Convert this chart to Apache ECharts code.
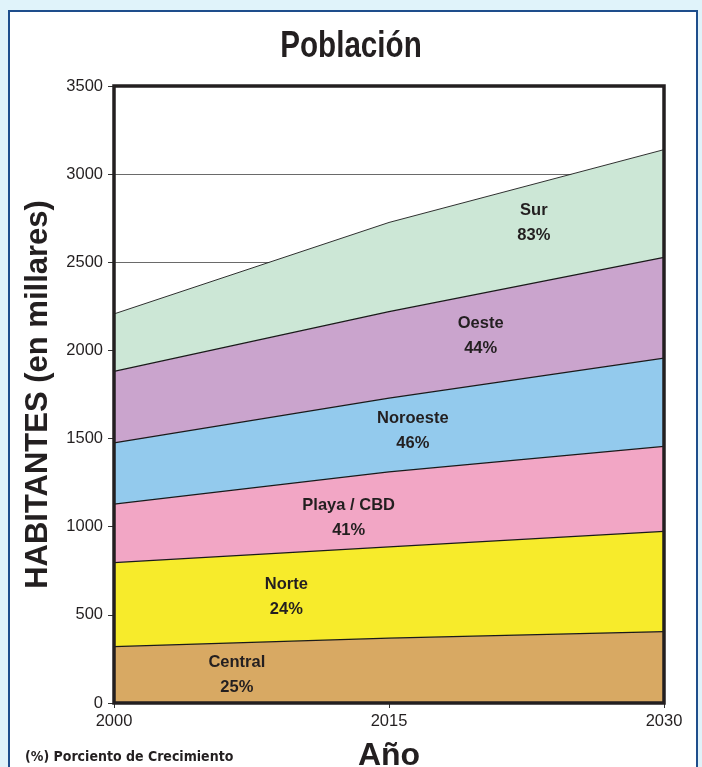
<!DOCTYPE html>
<html><head><meta charset="utf-8">
<script src="https://cdn.jsdelivr.net/npm/echarts@6/dist/echarts.min.js"></script>
<style>
html,body{margin:0;padding:0;width:702px;height:767px;overflow:hidden;background:#e0f3fa;}
#frame{position:absolute;left:8px;top:10px;width:686px;height:780px;border:2.5px solid #1e4e8c;background:#fff;}
#chart{position:absolute;left:0;top:0;width:702px;height:767px;}
</style></head>
<body><div id="frame"></div><div id="chart"></div>
<script>
const years = ['2000', '2015', '2030'];
const seriesNames = ['Central', 'Norte', 'Playa / CBD', 'Noroeste', 'Oeste', 'Sur'];
const central  = [320, 368, 405];
const norte    = [476, 518, 569];
const playa    = [332, 425, 482];
const noroeste = [347, 419, 500];
const oeste    = [406, 490, 572];
const sur      = [326, 506, 611];
const growthLabels = ['25%', '24%', '41%', '46%', '44%', '83%'];
// label anchor points [year, value]
const labelPoints = [[2006.7, 160], [2009.4, 600], [2012.8, 1052], [2016.3, 1545], [2020.0, 2083], [2022.9, 2722]];

const colors = ['#d8a963', '#f7eb2b', '#f2a6c5', '#93caed', '#caa4cd', '#cce7d6'];
const values = [central, norte, playa, noroeste, oeste, sur];
const FONT = 'Liberation Sans, Arial, sans-serif';

const chart = echarts.init(document.getElementById('chart'));
const areaSeries = values.map((v, i) => ({
  name: seriesNames[i], type: 'line', stack: 'total', symbol: 'none',
  xAxisIndex: 0, yAxisIndex: 0,
  data: v,
  lineStyle: { color: '#1a1a1a', width: i === 5 ? 0.9 : 1.3 },
  areaStyle: { color: colors[i], opacity: 1 },
  itemStyle: { color: colors[i] },
  z: 2
}));
const labelSeries = {
  type: 'scatter', symbolSize: 0, z: 5, silent: true, xAxisIndex: 1, yAxisIndex: 0,
  itemStyle: { opacity: 1 },
  data: labelPoints.map((p, i) => ({ value: p, name: seriesNames[i] + '\n' + growthLabels[i] })),
  label: { show: true, position: 'inside', formatter: p => p.name, opacity: 1,
    fontFamily: FONT, fontWeight: 'bold', fontSize: 16.5,
    lineHeight: 25, color: '#231f20', align: 'center', verticalAlign: 'middle' }
};
chart.setOption({
  animation: false,
  grid: { left: 114, right: 38, top: 86, bottom: 64, containLabel: false, outerBoundsMode: 'none',
    show: true, borderColor: '#231f20', borderWidth: 3.5, backgroundColor: 'transparent', z: 10 },
  xAxis: [{ type: 'category', data: years, boundaryGap: false,
    axisLine: { show: false }, splitLine: { show: false },
    axisTick: { show: true, length: 5, alignWithLabel: true, lineStyle: { color: '#333' } },
    axisLabel: { margin: 10, fontFamily: FONT, fontSize: 16.5, color: '#231f20' },
    name: 'Año', nameLocation: 'middle', nameGap: 37,
    nameTextStyle: { fontFamily: FONT, fontWeight: 'bold', fontSize: 32, color: '#231f20' }
  }, { type: 'value', min: 2000, max: 2030, show: false }],
  yAxis: { type: 'value', min: 0, max: 3500, interval: 500,
    axisLine: { show: false },
    splitLine: { show: true, lineStyle: { color: '#444', width: 0.8 } },
    axisTick: { show: true, length: 6, lineStyle: { color: '#333' } },
    axisLabel: { margin: 11, fontFamily: FONT, fontSize: 16.5, color: '#231f20', formatter: v => String(v) },
    name: 'HABITANTES (en millares)', nameLocation: 'middle', nameGap: 60, nameRotate: 90,
    nameTextStyle: { fontFamily: FONT, fontWeight: 'bold', fontSize: 31, color: '#231f20' }
  },
  graphic: [
    { type: 'text', left: 'center', top: 28, scaleX: 0.8, originX: 355, style: { text: 'Población', x: 355, fill: '#231f20',
      font: 'bold 37px "Liberation Sans", Arial, sans-serif', textAlign: 'center' } },
    { type: 'text', left: 25, top: 750, style: { text: '(%) Porciento de Crecimiento', fill: '#231f20',
      font: 'bold 14px "DejaVu Sans Condensed", sans-serif' } }
  ],
  series: [...areaSeries, labelSeries]
});
</script></body></html>
